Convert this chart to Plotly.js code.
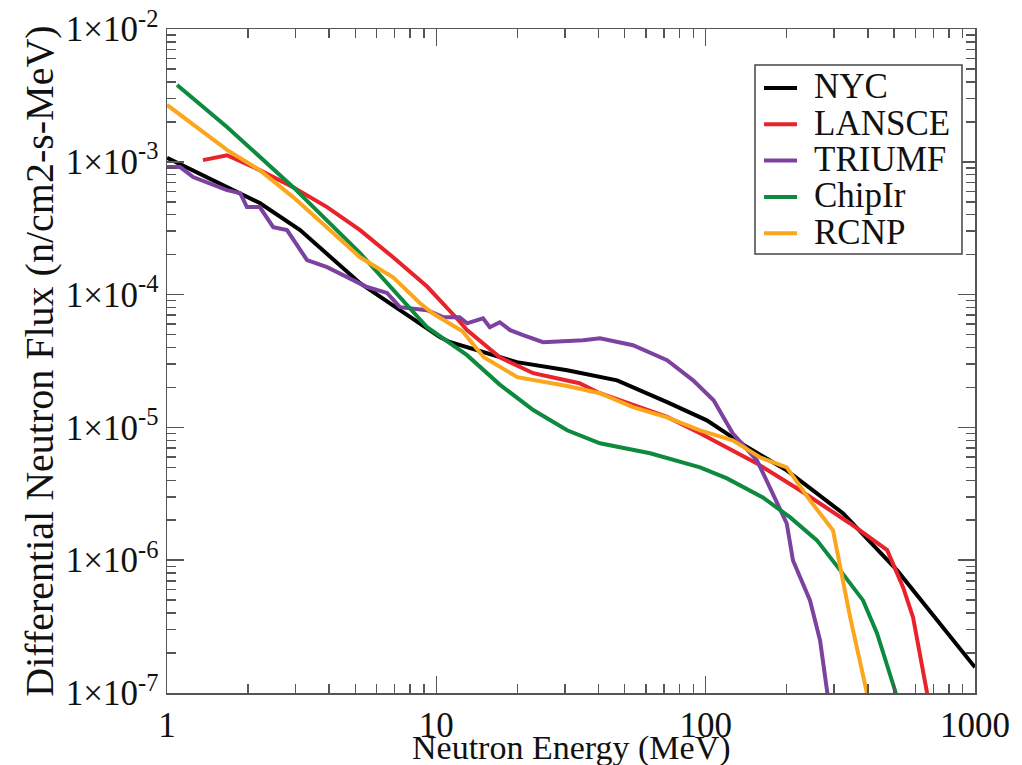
<!DOCTYPE html>
<html>
<head>
<meta charset="utf-8">
<script src="https://cdn.plot.ly/plotly-3.0.1.min.js"></script>
<style>html,body{margin:0;padding:0;background:#fff;}#chart{width:1022px;height:765px;}</style>
</head>
<body>
<div id="chart"></div>
<script>
// ---- data ----
const seriesNames = ["NYC", "LANSCE", "TRIUMF", "ChipIr", "RCNP"];

const nycE    = [1, 1.67, 2.21, 3.12, 5.21, 7.33, 10.3, 11.2, 17.2, 19.9, 30.6, 46.9, 71.9, 101, 143, 200, 324, 514, 1000];
const nycFlux = [1.07e-3, 6.44e-4, 4.89e-4, 3.06e-4, 1.22e-4, 7.63e-5, 4.8e-5, 4.4e-5, 3.37e-5, 3.10e-5, 2.69e-5, 2.26e-5, 1.55e-5, 1.13e-5, 7.08e-6, 4.75e-6, 2.25e-6, 8.38e-7, 1.56e-7];

const lanE    = [1.36, 1.67, 2.21, 2.94, 3.93, 5.21, 6.91, 9.24, 11.9, 13.0, 17.2, 22.9, 34, 40.5, 71.9, 95.3, 155, 224, 344, 472, 541, 589, 664, 690];
const lanFlux = [1.03e-3, 1.12e-3, 8.66e-4, 6.44e-4, 4.56e-4, 3.06e-4, 1.91e-4, 1.15e-4, 6.64e-5, 5.40e-5, 3.37e-5, 2.56e-5, 2.15e-5, 1.81e-5, 1.2e-5, 9.03e-6, 5.36e-6, 3.36e-6, 1.89e-6, 1.19e-6, 6.24e-7, 3.71e-7, 1.0e-7, 7.0e-8];

const triE    = [1, 1.12, 1.25, 1.67, 1.87, 1.98, 2.21, 2.35, 2.48, 2.79, 3.31, 3.93, 4.66, 5.53, 6.56, 7.33, 9.24, 10.6, 12.2, 13.0, 14.9, 15.8, 17.2, 18.8, 21.0, 24.9, 35.1, 40.5, 53.7, 71.9, 89.8, 107, 126, 155, 173, 200, 211, 244, 266, 282, 290];
const triFlux = [9.12e-4, 9.12e-4, 7.67e-4, 6.12e-4, 5.81e-4, 4.56e-4, 4.56e-4, 3.83e-4, 3.22e-4, 3.06e-4, 1.82e-4, 1.61e-4, 1.35e-4, 1.14e-4, 1.03e-4, 8.04e-5, 7.63e-5, 6.76e-5, 6.76e-5, 6.08e-5, 6.64e-5, 5.68e-5, 6.19e-5, 5.40e-5, 4.95e-5, 4.38e-5, 4.53e-5, 4.69e-5, 4.16e-5, 3.21e-5, 2.26e-5, 1.60e-5, 9.03e-6, 5.65e-6, 3.54e-6, 1.89e-6, 9.95e-7, 4.98e-7, 2.48e-7, 1.0e-7, 7.0e-8];

const chipE    = [1.09, 1.67, 2.94, 5.21, 9.24, 13.0, 17.2, 22.9, 30.6, 40.5, 62.2, 95.3, 120, 163, 206, 259, 316, 384, 433, 505, 520];
const chipFlux = [3.79e-3, 1.83e-3, 6.44e-4, 2.05e-4, 5.68e-5, 3.5e-5, 2.1e-5, 1.35e-5, 9.51e-6, 7.59e-6, 6.38e-6, 5.00e-6, 4.13e-6, 2.97e-6, 2.10e-6, 1.41e-6, 8.38e-7, 4.98e-7, 2.81e-7, 1.04e-7, 8.0e-8];

const rcnpE    = [1, 1.67, 2.21, 2.94, 5.21, 6.91, 8.70, 9.72, 12.5, 15.0, 20.0, 30.6, 40.5, 53.7, 71.9, 95.3, 126, 159, 200, 244, 297, 316, 344, 397, 410];
const rcnpFlux = [2.68e-3, 1.23e-3, 8.66e-4, 5.42e-4, 1.91e-4, 1.35e-4, 8.61e-5, 7.2e-5, 5.3e-5, 3.37e-5, 2.39e-5, 2.05e-5, 1.81e-5, 1.42e-5, 1.19e-5, 9.51e-6, 8.00e-6, 5.96e-6, 5.00e-6, 2.82e-6, 1.68e-6, 8.83e-7, 3.71e-7, 1.0e-7, 8.0e-8];

const xTickVals = [1, 10, 100, 1000];
const xTickText = ["1", "10", "100", "1000"];
const yTickVals = [1e-7, 1e-6, 1e-5, 1e-4, 1e-3, 1e-2];
const yTickText = ["1×10<sup>-7</sup>", "1×10<sup>-6</sup>", "1×10<sup>-5</sup>", "1×10<sup>-4</sup>", "1×10<sup>-3</sup>", "1×10<sup>-2</sup>"];
const mantissas = [2, 3, 4, 5, 6, 7, 8, 9];
const xDecades = [1, 10, 100];
const yDecades = [1e-7, 1e-6, 1e-5, 1e-4, 1e-3];
const xTitle = 'Neutron Energy (MeV)';
const yTitle = 'Differential Neutron Flux (n/cm2-s-MeV)';

// ---- build ----
const colors = ["#000000", "#e8232b", "#7d42a0", "#0d8a3e", "#fba61c"];
const xs = [nycE, lanE, triE, chipE, rcnpE];
const ys = [nycFlux, lanFlux, triFlux, chipFlux, rcnpFlux];

const traces = seriesNames.map((n, i) => ({
  x: xs[i], y: ys[i], name: n, type: 'scatter', mode: 'lines',
  line: {color: colors[i], width: 4},
  showlegend: false
}));

const xMinor = [];
xDecades.forEach(d => mantissas.forEach(m => xMinor.push(m * d)));
const yMinor = [];
yDecades.forEach(d => mantissas.forEach(m => yMinor.push(m * d)));

const font = 'Liberation Serif, Times New Roman, serif';
const axisCommon = {
  type: 'log', showgrid: false, zeroline: false,
  showline: true, linecolor: '#555', linewidth: 1.5, mirror: 'ticks',
  ticks: 'inside', ticklen: 17, tickwidth: 1.5, tickcolor: '#555',
  tickmode: 'array',
  tickfont: {family: font, size: 35, color: '#111'}
};

// plot area in pixels (for the hand-drawn legend box, which lives in paper coords)
const M = {l: 167, r: 47, t: 29, b: 72};
const W = 1022, H = 765;
const pw = W - M.l - M.r, ph = H - M.t - M.b;
const px = v => (v - M.l) / pw;
const py = v => (H - M.b - v) / ph;

const shapes = [{
  type: 'rect', xref: 'paper', yref: 'paper',
  x0: px(755), x1: px(962), y0: py(254), y1: py(65),
  line: {color: '#444', width: 1.5}, fillcolor: '#fff', layer: 'above'
}];
const annotations = [];
seriesNames.forEach((n, i) => {
  const rowY = 88 + i * 36.3;
  shapes.push({
    type: 'line', xref: 'paper', yref: 'paper',
    x0: px(764), x1: px(797), y0: py(rowY), y1: py(rowY),
    line: {color: colors[i], width: 4}, layer: 'above'
  });
  annotations.push({
    xref: 'paper', yref: 'paper', x: px(812), y: py(rowY - 1),
    xanchor: 'left', yanchor: 'middle', showarrow: false, text: n,
    font: {family: font, size: 35, color: '#111'}
  });
});
// x-axis title, placed at the very bottom edge as in the reference
annotations.push({
  xref: 'paper', yref: 'paper', x: 0.5, y: py(748),
  xanchor: 'center', yanchor: 'middle', showarrow: false, text: xTitle,
  font: {family: font, size: 34, color: '#111'}
});

const layout = {
  width: W, height: H,
  margin: M,
  paper_bgcolor: '#fff', plot_bgcolor: '#fff',
  showlegend: false,
  shapes: shapes,
  annotations: annotations,
  xaxis: Object.assign({}, axisCommon, {
    range: [0, 3], tickvals: xTickVals, ticktext: xTickText,
    minor: {tickmode: 'array', tickvals: xMinor, ticks: 'inside', ticklen: 9, tickwidth: 1.5, tickcolor: '#555', showgrid: false}
  }),
  yaxis: Object.assign({}, axisCommon, {
    range: [-7, -2], tickvals: yTickVals, ticktext: yTickText,
    minor: {tickmode: 'array', tickvals: yMinor, ticks: 'inside', ticklen: 9, tickwidth: 1.5, tickcolor: '#555', showgrid: false},
    title: {text: yTitle, font: {family: font, size: 40, color: '#111'}, standoff: 0}
  })
};

Plotly.newPlot('chart', traces, layout, {displayModeBar: false, staticPlot: true});
</script>
</body>
</html>
